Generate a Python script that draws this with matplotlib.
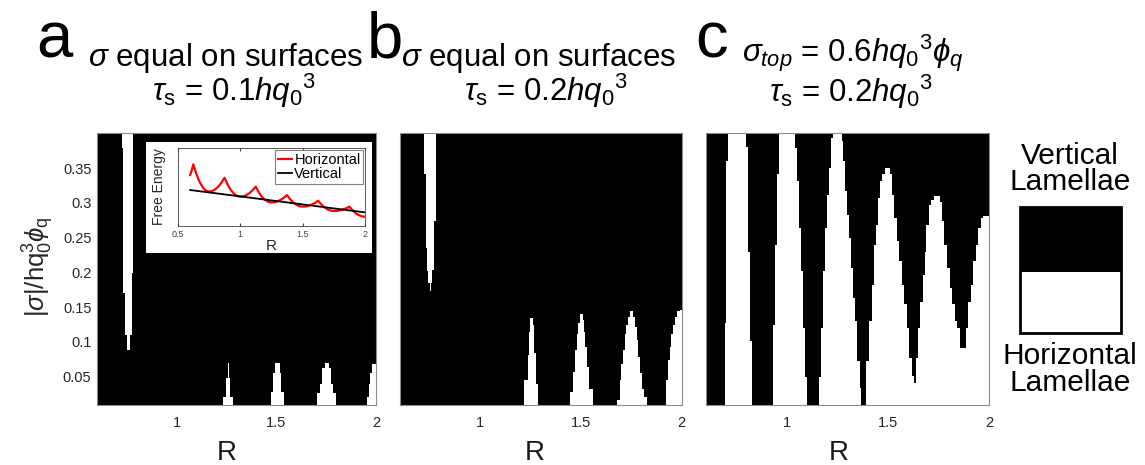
import matplotlib
matplotlib.use("Agg")
import matplotlib.pyplot as plt
from matplotlib.patches import Rectangle
from matplotlib import font_manager

plt.rcParams['font.family'] = ['Liberation Sans', 'DejaVu Sans']

try:
    font_manager.findfont('Liberation Sans Narrow', fallback_to_default=False)
    NARROW = 'Liberation Sans Narrow'
    TS = 26.5
except Exception:
    NARROW = 'Liberation Sans'
    TS = 22.5

plt.rcParams['mathtext.fontset'] = 'custom'
plt.rcParams['mathtext.rm'] = NARROW
plt.rcParams['mathtext.it'] = NARROW + ':italic'
plt.rcParams['mathtext.bf'] = NARROW + ':bold'
plt.rcParams['mathtext.sf'] = NARROW

# ---------------- data ----------------
# Column starts (R) and height of the white (horizontal) region measured from the bottom
a_R = [0.600, 1.233, 1.247, 1.255, 1.263, 1.268, 1.280, 1.472, 1.483, 1.492, 1.517, 1.525, 1.538,
       1.705, 1.718, 1.730, 1.742, 1.763, 1.772, 1.785, 1.797, 1.955, 1.963, 1.972, 1.980, 2.000]
a_h = [0.000, 0.021, 0.048, 0.070, 0.048, 0.021, 0.000, 0.028, 0.055, 0.070, 0.055, 0.028, 0.000,
       0.026, 0.040, 0.062, 0.070, 0.062, 0.040, 0.026, 0.000, 0.021, 0.040, 0.055, 0.069, 0.069]
# white strip hanging from the top: column starts and lower edge
a_top_R = [0.725, 0.7315, 0.738, 0.750, 0.768, 0.775, 0.783]
a_top_g = [0.379, 0.170, 0.110, 0.088, 0.110, 0.199, 0.199]

b_R = [0.600, 1.219, 1.235, 1.244, 1.249, 1.262, 1.269, 1.277, 1.287,
       1.448, 1.459, 1.469, 1.478, 1.484, 1.493, 1.509, 1.514, 1.522, 1.531, 1.542, 1.561,
       1.680, 1.692, 1.701, 1.710, 1.718, 1.726, 1.735, 1.743, 1.760, 1.768, 1.776, 1.783,
       1.793, 1.801, 1.812, 1.829,
       1.924, 1.932, 1.940, 1.949, 1.959, 1.967, 1.979, 1.992, 2.000]
b_h = [0.000, 0.045, 0.081, 0.115, 0.134, 0.124, 0.084, 0.040, 0.000,
       0.028, 0.057, 0.088, 0.112, 0.127, 0.140, 0.132, 0.115, 0.093, 0.064, 0.033, 0.000,
       0.016, 0.045, 0.069, 0.088, 0.112, 0.124, 0.136, 0.144, 0.136, 0.122, 0.103, 0.079,
       0.055, 0.033, 0.021, 0.000,
       0.045, 0.074, 0.093, 0.112, 0.124, 0.136, 0.144, 0.146, 0.146]
b_top_R = [0.723, 0.730, 0.735, 0.743, 0.750, 0.756, 0.763, 0.771, 0.780]
b_top_g = [0.341, 0.235, 0.202, 0.185, 0.173, 0.185, 0.204, 0.274, 0.274]

c_R = [0.600, 0.694, 0.702, 0.710, 0.801, 0.809, 0.818, 0.831,
       0.933, 0.945, 0.953, 0.961, 1.044, 1.052, 1.062, 1.070, 1.082, 1.092, 1.101,
       1.161, 1.168, 1.178, 1.189, 1.201, 1.211, 1.222, 1.230, 1.272, 1.280, 1.288, 1.300,
       1.310, 1.320, 1.330, 1.340, 1.350, 1.362, 1.367,
       1.395, 1.408, 1.420, 1.431, 1.441, 1.453, 1.461, 1.474, 1.486, 1.511, 1.519, 1.531,
       1.544, 1.557, 1.569, 1.580, 1.594, 1.605, 1.618, 1.630,
       1.641, 1.650, 1.661, 1.673, 1.683, 1.691, 1.703, 1.715, 1.728, 1.758, 1.767, 1.778,
       1.792, 1.805, 1.817, 1.830, 1.841, 1.858,
       1.887, 1.898, 1.910, 1.922, 1.936, 1.947, 1.959, 1.972, 2.000]
c_h = [0.000, 0.127, 0.360, 0.410, 0.380, 0.230, 0.101, 0.000,
       0.125, 0.240, 0.341, 0.410, 0.379, 0.331, 0.264, 0.202, 0.120, 0.050, 0.000,
       0.050, 0.120, 0.202, 0.264, 0.312, 0.350, 0.393, 0.410, 0.389, 0.360, 0.317, 0.283,
       0.250, 0.206, 0.163, 0.130, 0.072, 0.034, 0.000,
       0.072, 0.130, 0.182, 0.240, 0.269, 0.307, 0.331, 0.341, 0.350, 0.341, 0.312, 0.278,
       0.245, 0.216, 0.182, 0.154, 0.120, 0.077, 0.051, 0.041,
       0.077, 0.120, 0.158, 0.197, 0.230, 0.269, 0.297, 0.305, 0.310, 0.302, 0.274, 0.240,
       0.206, 0.178, 0.154, 0.130, 0.120, 0.091,
       0.120, 0.158, 0.182, 0.216, 0.240, 0.264, 0.278, 0.281, 0.281]

# inset: free energy vs R (arbitrary units)
inset_R_h = [0.600, 0.613, 0.625, 0.650, 0.675, 0.700, 0.725, 0.750, 0.775, 0.800, 0.825, 0.850,
             0.875, 0.900, 0.925, 0.950, 0.975, 1.000, 1.025, 1.050, 1.075, 1.100,
             1.125, 1.150, 1.175, 1.200, 1.225, 1.250, 1.275, 1.300, 1.325, 1.350,
             1.375, 1.400, 1.425, 1.450, 1.475, 1.500, 1.525, 1.550, 1.575, 1.600,
             1.625, 1.650, 1.675, 1.700, 1.725, 1.750, 1.775, 1.800, 1.825, 1.850,
             1.875, 1.900, 1.925, 1.950, 1.975, 2.000]
inset_E_h = [0.655, 0.720, 0.793, 0.666, 0.567, 0.497, 0.454, 0.440, 0.447, 0.469, 0.505, 0.555,
             0.620, 0.532, 0.463, 0.414, 0.385, 0.375, 0.380, 0.396, 0.421, 0.458,
             0.504, 0.430, 0.370, 0.333, 0.308, 0.300, 0.304, 0.315, 0.335, 0.362,
             0.397, 0.343, 0.300, 0.270, 0.252, 0.246, 0.249, 0.258, 0.274, 0.295,
             0.323, 0.275, 0.238, 0.211, 0.195, 0.190, 0.192, 0.199, 0.210, 0.226,
             0.246, 0.199, 0.163, 0.137, 0.121, 0.116]
inset_R_v = [0.600, 2.000]
inset_E_v = [0.461, 0.172]

x_ticks = [1, 1.5, 2]
x_ticklabels = ['1', '1.5', '2']
y_ticks = [0.05, 0.1, 0.15, 0.2, 0.25, 0.3, 0.35]
y_ticklabels = ['0.05', '0.1', '0.15', '0.2', '0.25', '0.3', '0.35']
inset_ticks = [0.5, 1, 1.5, 2]
inset_ticklabels = ['0.5', '1', '1.5', '2']

# ---------------- figure ----------------
W, H = 1145, 465
fig = plt.figure(figsize=(W / 100, H / 100), dpi=100)
fig.patch.set_facecolor('white')


def px_axes(l, r, t, b):
    return fig.add_axes([l / W, 1 - b / H, (r - l) / W, (b - t) / H])


def fx(x):
    return x / W


def fy(y):
    return 1 - y / H


TICK_C = '#262626'
panels = [
    (97, 376, a_R, a_h, a_top_R, a_top_g, True),
    (399.6, 681.7, b_R, b_h, b_top_R, b_top_g, False),
    (705.5, 989, c_R, c_h, None, None, False),
]
axes = []
for (l, r, R, h, tR, tg, first) in panels:
    ax = px_axes(l, r, 133.5, 404.5)
    ax.set_facecolor('black')
    ax.fill_between(R, 0, h, step='post', color='white', lw=0)
    if tR is not None:
        ax.fill_between(tR, tg, 0.5, step='post', color='white', lw=0)
    ax.set_xlim(0.6, 2.0)
    ax.set_ylim(0.01, 0.40)
    ax.set_xticks(x_ticks)
    ax.set_xticklabels(x_ticklabels)
    if first:
        ax.set_yticks(y_ticks)
        ax.set_yticklabels(y_ticklabels)
    else:
        ax.set_yticks([])
    ax.tick_params(length=0, labelsize=10.5, labelcolor=TICK_C)
    ax.tick_params(axis='x', pad=8)
    ax.tick_params(axis='y', pad=4)
    for s in ax.spines.values():
        s.set_color('#8c8c8c')
        s.set_linewidth(0.8)
    axes.append(ax)

# x labels
for xc in [227, 535, 839]:
    fig.text(fx(xc), fy(460), 'R', ha='center', va='baseline', fontsize=20, color='#1a1a1a')

# y label
fig.text(fx(38), fy(267), r'$|\sigma|/\mathrm{hq}_\mathrm{0}^\mathrm{3}\phi_\mathrm{q}$',
         rotation=90, ha='center', va='center', fontsize=18.5, color=TICK_C)

# panel letters
for letter, xc in [('a', 54), ('b', 385), ('c', 712)]:
    fig.text(fx(xc), fy(57), letter, ha='center', va='baseline', fontsize=47, color='black')

# titles
tkw = dict(ha='center', va='baseline', fontsize=TS, family=NARROW)
fig.text(fx(226), fy(66), r'$\sigma$ equal on surfaces', **tkw)
fig.text(fx(234), fy(101), r'$\tau_\mathrm{s}$ = 0.1$\mathit{hq}_\mathit{0}{}^\mathit{3}$', **tkw)
fig.text(fx(539), fy(66), r'$\sigma$ equal on surfaces', **tkw)
fig.text(fx(546), fy(101), r'$\tau_\mathrm{s}$ = 0.2$\mathit{hq}_\mathit{0}{}^\mathit{3}$', **tkw)
fig.text(fx(853), fy(62), r'$\sigma_\mathit{top}$ = 0.6$\mathit{hq}_\mathit{0}{}^\mathit{3}\phi_\mathit{q}$', **tkw)
fig.text(fx(851), fy(102), r'$\tau_\mathrm{s}$ = 0.2$\mathit{hq}_\mathit{0}{}^\mathit{3}$', **tkw)

# inset
fig.patches.append(Rectangle((fx(146), fy(253)), (372 - 146) / W, (253 - 142) / H,
                             transform=fig.transFigure, facecolor='white', edgecolor='none',
                             zorder=5))
ins = px_axes(177.7, 365, 148.3, 225.7)
ins.set_zorder(10)
ins.set_facecolor('white')
ins.plot(inset_R_h, inset_E_h, color='#ff0000', lw=1.6, label='Horizontal')
ins.plot(inset_R_v, inset_E_v, color='black', lw=1.3, label='Vertical')
ins.set_xlim(0.5, 2.0)
ins.set_ylim(0, 1)
ins.set_xticks(inset_ticks)
ins.set_xticklabels(inset_ticklabels)
ins.set_yticks([])
ins.tick_params(axis='x', direction='in', length=2, top=True, labelsize=6.5,
                labelcolor='#404040', color='#404040', pad=3)
for s in ins.spines.values():
    s.set_color('#404040')
    s.set_linewidth(0.6)
ins.set_xlabel('R', fontsize=11, color='#262626', labelpad=0)
ins.text(-0.10, 0.5, 'Free Energy', rotation=90, transform=ins.transAxes,
         ha='center', va='center', fontsize=10, color='#262626')
leg = ins.legend(loc='upper right', fontsize=10.5, handlelength=1.0, handletextpad=0.15,
                 borderpad=0.15, labelspacing=0.05, borderaxespad=0.15, fancybox=False,
                 framealpha=1)
leg.get_frame().set_edgecolor('#808080')
leg.get_frame().set_linewidth(0.8)

# right-hand key
fig.text(fx(1070), fy(164.5), 'Vertical', ha='center', va='baseline', fontsize=21.5)
fig.text(fx(1070), fy(190.5), 'Lamellae', ha='center', va='baseline', fontsize=21.5)
fig.patches.append(Rectangle((fx(1020), fy(272)), 101 / W, 65 / H, transform=fig.transFigure,
                             facecolor='black', edgecolor='none'))
fig.patches.append(Rectangle((fx(1020), fy(333)), 101 / W, 126 / H, transform=fig.transFigure,
                             facecolor='none', edgecolor='black', linewidth=2.0))
fig.text(fx(1070), fy(363.5), 'Horizontal', ha='center', va='baseline', fontsize=21.5)
fig.text(fx(1070), fy(391), 'Lamellae', ha='center', va='baseline', fontsize=21.5)

fig.savefig('out.png', dpi=100)
